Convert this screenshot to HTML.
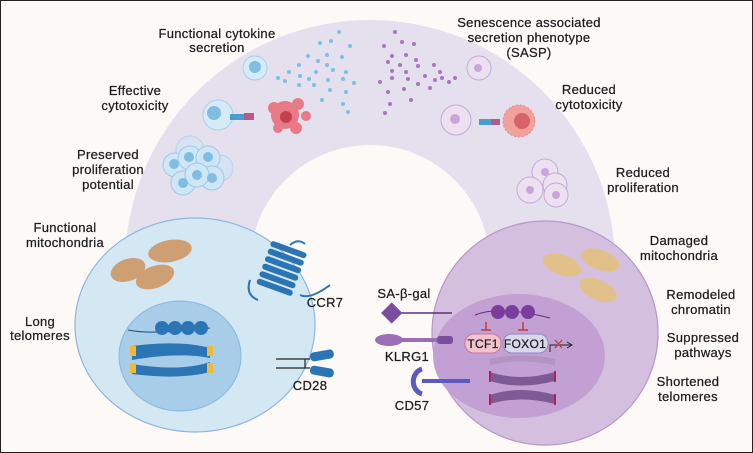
<!DOCTYPE html>
<html><head><meta charset="utf-8"><style>
html,body{margin:0;padding:0;background:#fcf9f7}
svg{display:block}
text{font-family:"Liberation Sans",sans-serif;font-size:13px;fill:#1d1d1f;stroke:#1d1d1f;stroke-width:.25;text-anchor:middle;letter-spacing:.3px}
</style></head><body>
<svg width="753" height="453" viewBox="0 0 753 453" xmlns="http://www.w3.org/2000/svg">
<rect x="0.5" y="0.5" width="752" height="452" fill="#fcf9f7" stroke="#222" stroke-width="1"/>
<path d="M125,265 A245,245 0 0 1 615,265 L490,265 A120,120 0 0 0 250,265 Z" fill="#e4e0ee"/>
<g fill="#7fbfe3">
<circle cx="339" cy="32" r="2"/><circle cx="320" cy="43" r="2"/><circle cx="331" cy="41" r="2"/><circle cx="350" cy="46" r="2"/>
<circle cx="308" cy="56" r="2"/><circle cx="327" cy="55" r="2"/><circle cx="342" cy="57" r="2"/><circle cx="318" cy="61" r="2"/>
<circle cx="299" cy="65" r="2"/><circle cx="327" cy="65" r="2"/><circle cx="333" cy="70" r="2"/><circle cx="346" cy="72" r="2"/>
<circle cx="289" cy="72" r="2"/><circle cx="300" cy="76" r="2"/><circle cx="316" cy="72" r="2"/><circle cx="309" cy="79" r="2"/>
<circle cx="278" cy="78" r="2"/><circle cx="285" cy="81" r="2"/><circle cx="299" cy="85" r="2"/><circle cx="314" cy="85" r="2"/>
<circle cx="328" cy="80" r="2"/><circle cx="343" cy="79" r="2"/><circle cx="354" cy="83" r="2"/><circle cx="330" cy="90" r="2"/>
<circle cx="346" cy="92" r="2"/><circle cx="322" cy="100" r="2"/><circle cx="343" cy="104" r="2"/><circle cx="348" cy="112" r="2"/>
</g>
<g fill="#a877bd">
<circle cx="395" cy="32" r="2"/><circle cx="384" cy="46" r="2"/><circle cx="402" cy="42" r="2"/><circle cx="414" cy="44" r="2"/>
<circle cx="392" cy="56" r="2"/><circle cx="406" cy="55" r="2"/><circle cx="416" cy="60" r="2"/><circle cx="388" cy="62" r="2"/>
<circle cx="400" cy="65" r="2"/><circle cx="418" cy="66" r="2"/><circle cx="434" cy="65" r="2"/><circle cx="440" cy="72" r="2"/>
<circle cx="392" cy="71" r="2"/><circle cx="406" cy="72" r="2"/><circle cx="425" cy="76" r="2"/><circle cx="442" cy="78" r="2"/>
<circle cx="455" cy="78" r="2"/><circle cx="380" cy="82" r="2"/><circle cx="392" cy="78" r="2"/><circle cx="408" cy="79" r="2"/>
<circle cx="418" cy="84" r="2"/><circle cx="435" cy="80" r="2"/><circle cx="430" cy="88" r="2"/><circle cx="449" cy="82" r="2"/>
<circle cx="404" cy="89" r="2"/><circle cx="388" cy="92" r="2"/><circle cx="411" cy="100" r="2"/><circle cx="390" cy="104" r="2"/><circle cx="385" cy="113" r="2"/>
</g>
<circle cx="255" cy="68" r="12" fill="#d6ebf7" stroke="#a9cfe8"/><circle cx="255" cy="67" r="6" fill="#7fbde3"/>
<circle cx="218" cy="115" r="15" fill="#d6ebf7" stroke="#a9cfe8"/><circle cx="214" cy="113" r="7" fill="#7fbde3"/>
<rect x="230" y="114" width="22" height="6" fill="#4a9dd0"/><rect x="244" y="113" width="10" height="7" fill="#b35b8f"/>
<g fill="#e87a88"><circle cx="285" cy="115" r="14"/><circle cx="274" cy="108" r="6"/><circle cx="298" cy="104" r="6"/><circle cx="296" cy="128" r="6"/><circle cx="278" cy="128" r="5"/><circle cx="306" cy="116" r="5"/></g>
<circle cx="286" cy="117" r="6" fill="#c4404f"/>
<g fill="#cfe6f5" stroke="#9fc9e6">
<circle cx="190" cy="150" r="14" opacity=".6"/><circle cx="220" cy="168" r="13" opacity=".6"/>
<circle cx="175" cy="165" r="12"/><circle cx="190" cy="158" r="12"/><circle cx="208" cy="158" r="12"/><circle cx="212" cy="178" r="12"/><circle cx="183" cy="183" r="12"/><circle cx="197" cy="175" r="12"/>
</g>
<g fill="#7fbde3"><circle cx="174" cy="164" r="5"/><circle cx="189" cy="157" r="5"/><circle cx="208" cy="157" r="5"/><circle cx="212" cy="178" r="5"/><circle cx="183" cy="183" r="5"/><circle cx="197" cy="175" r="5"/></g>
<g fill="#ece0f1" stroke="#c7a9d6">
<circle cx="479" cy="68" r="12"/><circle cx="456" cy="120" r="15"/>
<circle cx="545" cy="172" r="13"/><circle cx="555" cy="185" r="12"/><circle cx="530" cy="190" r="13"/><circle cx="556" cy="195" r="12"/>
</g>
<g fill="#c9a6d9"><circle cx="478" cy="68" r="4"/><circle cx="455" cy="119" r="5"/><circle cx="545" cy="172" r="4"/><circle cx="530" cy="190" r="4"/><circle cx="556" cy="195" r="4"/></g>
<rect x="479" y="119" width="14" height="6" fill="#4a9dd0"/><rect x="491" y="119" width="9" height="6" fill="#b35b8f"/>
<circle cx="519" cy="121" r="16" fill="#f1a09c" stroke="#e98c88" stroke-dasharray="2 2"/><circle cx="522" cy="121" r="8" fill="#d4646a"/>
<ellipse cx="195" cy="325" rx="120" ry="107" fill="#d3e8f3" stroke="#8fb5de" stroke-width="1.2"/>
<g fill="#cf9f74"><ellipse cx="128" cy="270" rx="18" ry="11" transform="rotate(-20 128 270)"/><ellipse cx="170" cy="251" rx="22" ry="11" transform="rotate(-10 170 251)"/><ellipse cx="155" cy="277" rx="20" ry="11" transform="rotate(-20 155 277)"/></g>
<ellipse cx="180" cy="356" rx="61" ry="55" fill="#a7cde9" stroke="#8ab7de"/>
<path d="M128,330 Q150,335 210,328" stroke="#1c4f7a" fill="none"/>
<g fill="#2c75b5"><circle cx="162" cy="328" r="7"/><circle cx="175" cy="328" r="7"/><circle cx="188" cy="328" r="7"/><circle cx="201" cy="328" r="7"/></g>
<path d="M132,346 Q180,340 210,348 L210,358 Q180,352 132,360Z M132,364 Q180,372 210,362 L210,372 Q180,380 132,374Z" fill="#2c75b5"/>
<g fill="#f2b83a"><rect x="130" y="346" width="6" height="10"/><rect x="130" y="363" width="6" height="10"/><rect x="207" y="346" width="6" height="10"/><rect x="207" y="363" width="6" height="10"/></g>
<g fill="#2c75b5" transform="rotate(20 280 270)"><rect x="262" y="245" width="38" height="6" rx="3"/><rect x="262" y="253" width="38" height="6" rx="3"/><rect x="262" y="261" width="38" height="6" rx="3"/><rect x="262" y="269" width="38" height="6" rx="3"/><rect x="262" y="277" width="38" height="6" rx="3"/><rect x="262" y="285" width="38" height="6" rx="3"/></g>
<path d="M250,280 Q245,295 258,300 M290,245 Q298,238 305,244 M300,295 Q310,300 330,285" stroke="#2c75b5" stroke-width="2" fill="none"/>
<path d="M276,359 H310 M276,368 H310 M305,359 V368" stroke="#222" stroke-width="1.2"/>
<rect x="310" y="353" width="24" height="9" rx="4" fill="#2c75b5" transform="rotate(-10 310 357)"/><rect x="310" y="365" width="24" height="9" rx="4" fill="#2c75b5" transform="rotate(10 310 370)"/>
<ellipse cx="545" cy="333" rx="113" ry="112" fill="#d4c0de" stroke="#b797c9" stroke-width="1.2"/>
<ellipse cx="519" cy="356" rx="86" ry="62" fill="#c2a0d3"/>
<g fill="#e2c08a"><ellipse cx="562" cy="265" rx="20" ry="10" transform="rotate(20 562 265)"/><ellipse cx="600" cy="260" rx="20" ry="10" transform="rotate(20 600 260)"/><ellipse cx="598" cy="290" rx="20" ry="10" transform="rotate(25 598 290)"/></g>
<path d="M475,315 Q500,305 550,318" stroke="#5d2f80" fill="none"/>
<g fill="#7a3d9e"><circle cx="498" cy="312" r="7"/><circle cx="512" cy="312" r="7"/><circle cx="528" cy="312" r="7"/></g>
<path d="M486,322 V330 M481,330 H491 M523,322 V330 M518,330 H528" stroke="#c23b3b" stroke-width="1.5"/>
<rect x="465" y="334" width="36" height="19" rx="9" fill="#f2c3cf" stroke="#c77a95"/>
<rect x="503" y="334" width="45" height="19" rx="9" fill="#d9d6ee" stroke="#8e88bd"/>
<text x="483" y="348" style="font-size:12px">TCF1</text><text x="525" y="348" style="font-size:12px">FOXO1</text>
<path d="M550,352 V345 H571 M567,342 L572,345 L567,348" stroke="#222" fill="none"/>
<path d="M555,340 L562,348 M562,340 L555,348" stroke="#c23b3b" stroke-width="1.3"/>
<path d="M490,362 Q520,355 555,362" stroke="#a88ab8" stroke-width="6" fill="none" opacity=".6"/>
<path d="M490,372 Q520,382 555,372 L555,381 Q520,390 490,381Z M490,395 Q520,385 555,395 L555,404 Q520,395 490,404Z" fill="#7e5a94"/>
<path d="M490,371 V382 M555,371 V382 M490,394 V405 M555,394 V405" stroke="#b0225a" stroke-width="2"/>
<path d="M392,313 H452" stroke="#5d2f80" stroke-width="1.5"/>
<rect x="384" y="305" width="15" height="15" fill="#7a4d9e" transform="rotate(45 391 313)"/>
<ellipse cx="389" cy="340" rx="14" ry="6" fill="#9a6fb5"/><rect x="400" y="338" width="38" height="4" fill="#9a6fb5"/><rect x="437" y="336" width="16" height="8" rx="3" fill="#7a4d9e"/>
<path d="M422,369 A12,13 0 0 0 422,394" stroke="#5c5ac2" stroke-width="5" fill="none"/><rect x="422" y="379" width="48" height="4" fill="#5c5ac2"/>
<text x="217" y="38">Functional cytokine</text><text x="217" y="52">secretion</text>
<text x="135" y="95">Effective</text><text x="135" y="110">cytotoxicity</text>
<text x="108" y="159">Preserved</text><text x="108" y="174">proliferation</text><text x="108" y="189">potential</text>
<text x="65" y="232">Functional</text><text x="65" y="247">mitochondria</text>
<text x="40" y="326">Long</text><text x="40" y="340">telomeres</text>
<text x="325" y="307">CCR7</text><text x="310" y="390">CD28</text>
<text x="529" y="27">Senescence associated</text><text x="529" y="42">secretion phenotype</text><text x="529" y="57">(SASP)</text>
<text x="589" y="94">Reduced</text><text x="589" y="109">cytotoxicity</text>
<text x="643" y="177">Reduced</text><text x="643" y="192">proliferation</text>
<text x="679" y="245">Damaged</text><text x="679" y="260">mitochondria</text>
<text x="701" y="299">Remodeled</text><text x="701" y="314">chromatin</text>
<text x="703" y="342">Suppressed</text><text x="703" y="357">pathways</text>
<text x="688" y="386">Shortened</text><text x="688" y="401">telomeres</text>
<text x="404" y="298">SA-β-gal</text><text x="407" y="361">KLRG1</text><text x="412" y="410">CD57</text>
</svg>
</body></html>
